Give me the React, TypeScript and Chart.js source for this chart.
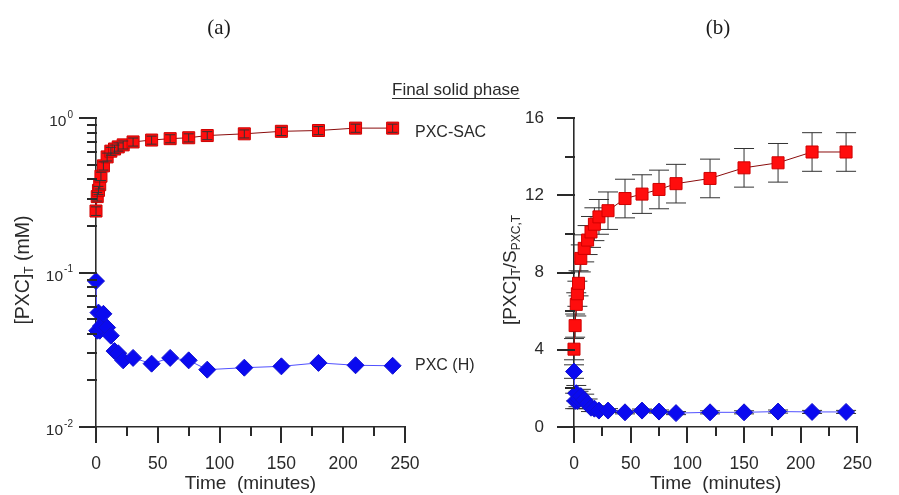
import React, { useEffect, useRef } from "react";
import { Chart, registerables } from "chart.js";

Chart.register(...registerables);

// ---------- data ----------
const timeMin = [0, 1, 2, 3, 4, 6, 9, 12, 15, 18, 22, 30, 45, 60, 75, 90, 120, 150, 180, 210, 240];

// (a) total PXC concentration in solution (mM), log scale
const sacConcA = [0.25, 0.31, 0.34, 0.37, 0.42, 0.49, 0.56, 0.61, 0.63, 0.65, 0.67, 0.7, 0.72, 0.735, 0.745, 0.77, 0.79, 0.82, 0.83, 0.86, 0.86];
const sacErrA = [0.016, 0.02, 0.021, 0.023, 0.026, 0.03, 0.033, 0.036, 0.038, 0.04, 0.04, 0.042, 0.043, 0.044, 0.045, 0.046, 0.047, 0.05, 0.05, 0.052, 0.052];
const hConcA = [0.088, 0.042, 0.055, 0.042, 0.045, 0.054, 0.044, 0.039, 0.031, 0.03, 0.027, 0.028, 0.0257, 0.028, 0.027, 0.0235, 0.0242, 0.0247, 0.026, 0.0251, 0.0249];

// (b) [PXC]T / S(PXC,T)
const sacRatioB = [4.03, 5.25, 6.35, 6.9, 7.44, 8.73, 9.25, 9.68, 10.1, 10.5, 10.88, 11.2, 11.83, 12.06, 12.3, 12.6, 12.87, 13.42, 13.68, 14.24, 14.24];
const sacErrB = [0.55, 0.6, 0.6, 0.65, 0.65, 0.7, 0.7, 0.75, 0.8, 0.85, 0.9, 0.97, 1.0, 1.0, 1.0, 1.0, 1.0, 1.0, 1.0, 1.0, 1.0];
const hRatioB = [2.87, 1.35, 1.75, 1.35, 1.45, 1.6, 1.4, 1.2, 1.0, 0.95, 0.85, 0.85, 0.76, 0.85, 0.8, 0.72, 0.76, 0.76, 0.8, 0.78, 0.78];
const hErrB = [0.35, 0.4, 0.4, 0.4, 0.4, 0.35, 0.3, 0.25, 0.2, 0.15, 0.12, 0.1, 0.08, 0.08, 0.08, 0.08, 0.08, 0.08, 0.08, 0.08, 0.08];

const xTickLabels = [0, 50, 100, 150, 200, 250];
const logDecades = [-2, -1, 0];
const ratioTicks = [0, 4, 8, 12, 16];

const seriesNames = ["PXC-SAC", "PXC (H)"];
const panelTitles = ["(a)", "(b)"];
const phaseLabel = "Final solid phase";
const xTitle = "Time  (minutes)";

// ---------- styling ----------
const SANS = '"Liberation Sans", Arial, sans-serif';
const SERIF = '"Liberation Serif", "Times New Roman", serif';
const INK = "#2a2a2a";

function pts(ys: number[]) {
  return timeMin.map((t, i) => ({ x: t, y: ys[i] }));
}

function drawRuns(ctx: CanvasRenderingContext2D, runs: { t: string; sub?: boolean }[], cx: number, cy: number, size: number, rotate: boolean) {
  const main = `${size}px ${SANS}`;
  const sub = `${Math.round(size * 0.62)}px ${SANS}`;
  let total = 0;
  const widths = runs.map((r) => {
    ctx.font = r.sub ? sub : main;
    const w = ctx.measureText(r.t).width;
    total += w;
    return w;
  });
  ctx.save();
  ctx.translate(cx, cy);
  if (rotate) ctx.rotate(-Math.PI / 2);
  ctx.fillStyle = INK;
  ctx.textBaseline = "middle";
  ctx.textAlign = "left";
  let x = -total / 2;
  runs.forEach((r, i) => {
    ctx.font = r.sub ? sub : main;
    ctx.fillText(r.t, x, r.sub ? size * 0.3 : 0);
    x += widths[i];
  });
  ctx.restore();
}

function drawErrorBars(chart: any, cap: number) {
  const ctx: CanvasRenderingContext2D = chart.ctx;
  const xs = chart.scales.x;
  const ys = chart.scales.y;
  ctx.save();
  ctx.strokeStyle = "#333";
  ctx.lineWidth = 1;
  chart.data.datasets.forEach((ds: any) => {
    const errs: number[] | undefined = ds.errorBars;
    if (!errs) return;
    ds.data.forEach((p: any, i: number) => {
      const e = errs[i];
      const px = xs.getPixelForValue(p.x);
      const top = ys.getPixelForValue(p.y + e);
      const bot = ys.getPixelForValue(p.y - e);
      ctx.beginPath();
      ctx.moveTo(px, top);
      ctx.lineTo(px, bot);
      ctx.moveTo(px - cap, top);
      ctx.lineTo(px + cap, top);
      ctx.moveTo(px - cap, bot);
      ctx.lineTo(px + cap, bot);
      ctx.stroke();
    });
  });
  ctx.restore();
}

function drawAxisTicks(chart: any, yTicks: { v: number; major: boolean }[]) {
  const ctx: CanvasRenderingContext2D = chart.ctx;
  const xs = chart.scales.x;
  const ys = chart.scales.y;
  const area = chart.chartArea;
  const left = Math.round(area.left);
  const bottom = Math.round(area.bottom);
  ctx.save();
  ctx.fillStyle = INK;
  for (let t = 0; t <= 250; t += 25) {
    const px = Math.round(xs.getPixelForValue(t));
    const len = t % 50 === 0 ? 16 : 9;
    ctx.fillRect(px - 1, bottom - 1, 2, len + 1);
  }
  yTicks.forEach((tk) => {
    const py = Math.round(ys.getPixelForValue(tk.v));
    const len = tk.major ? 17 : 9;
    ctx.fillRect(left - len, py - 1, len + 1, 2);
  });
  ctx.restore();
}

function xScale() {
  return {
    type: "linear" as const,
    min: 0,
    max: 250,
    afterFit: (s: any) => {
      s.height = 68;
    },
    grid: { display: false, drawTicks: false },
    border: { display: true, color: INK, width: 1.6 },
    afterBuildTicks: (s: any) => {
      s.ticks = xTickLabels.map((v) => ({ value: v }));
    },
    ticks: {
      autoSkip: false,
      maxRotation: 0,
      padding: 27,
      color: INK,
      font: { family: SANS, size: 17.5 },
    },
    title: {
      display: true,
      text: xTitle,
      color: INK,
      padding: { top: 0, bottom: 0 },
      font: { family: SANS, size: 19 },
    },
  };
}

function seriesDatasets(sac: number[], h: number[], sacErr: number[], hErr: number[] | null) {
  return [
    {
      label: seriesNames[0],
      data: pts(sac),
      errorBars: sacErr,
      borderColor: "#8a0c0c",
      borderWidth: 1,
      backgroundColor: "#ff0d0d",
      pointBackgroundColor: "#ff0d0d",
      pointBorderColor: "#d00000",
      pointBorderWidth: 1,
      pointStyle: "rect",
      pointRadius: 8.5,
      tension: 0,
      clip: false,
    },
    {
      label: seriesNames[1],
      data: pts(h),
      errorBars: hErr,
      borderColor: "#5050ff",
      borderWidth: 1,
      backgroundColor: "#0a0af0",
      pointBackgroundColor: "#0a0af0",
      pointBorderColor: "#1010d0",
      pointBorderWidth: 1,
      pointStyle: "rectRot",
      pointRadius: 8.5,
      tension: 0,
      clip: false,
    },
  ];
}

const panelAPlugin = {
  id: "panelA",
  afterDatasetsDraw(chart: any) {
    drawErrorBars(chart, 5);
  },
  afterDraw(chart: any) {
    const ctx: CanvasRenderingContext2D = chart.ctx;
    const ys = chart.scales.y;
    const yTicks: { v: number; major: boolean }[] = [];
    logDecades.forEach((e) => {
      for (let m = 1; m <= 9; m++) {
        const v = m * Math.pow(10, e);
        if (v <= 1.0001) yTicks.push({ v, major: m === 1 });
      }
    });
    drawAxisTicks(chart, yTicks);

    // power-of-ten labels
    ctx.save();
    ctx.fillStyle = INK;
    ctx.textBaseline = "middle";
    ctx.textAlign = "left";
    logDecades.forEach((e) => {
      const py = ys.getPixelForValue(Math.pow(10, e));
      const exp = String(e);
      ctx.font = `10px ${SANS}`;
      const sw = ctx.measureText(exp).width;
      ctx.font = `15.5px ${SANS}`;
      const mw = ctx.measureText("10").width;
      const x0 = 73 - sw - mw - 1;
      ctx.fillText("10", x0, py + 4);
      ctx.font = `10px ${SANS}`;
      ctx.fillText(exp, x0 + mw + 1, py - 3);
    });
    ctx.restore();

    drawRuns(ctx, [{ t: "[PXC]" }, { t: "T", sub: true }, { t: " (mM)" }], 24, 270, 19.5, true);

    ctx.save();
    ctx.fillStyle = "#1a1a1a";
    ctx.font = `21px ${SERIF}`;
    ctx.textAlign = "center";
    ctx.textBaseline = "middle";
    ctx.fillText(panelTitles[0], 219, 28);

    ctx.fillStyle = INK;
    ctx.font = `17px ${SANS}`;
    ctx.textAlign = "left";
    ctx.fillText(phaseLabel, 392, 90);
    const w = ctx.measureText(phaseLabel).width;
    ctx.fillRect(392, 98, w, 1);

    ctx.font = `16px ${SANS}`;
    ctx.fillText(seriesNames[0], 415, 133);
    ctx.fillText(seriesNames[1], 415, 366);
    ctx.restore();
  },
};

const panelBPlugin = {
  id: "panelB",
  beforeDatasetsDraw(chart: any) {
    drawErrorBars(chart, 10);
  },
  afterDraw(chart: any) {
    const ctx: CanvasRenderingContext2D = chart.ctx;
    const yTicks: { v: number; major: boolean }[] = [];
    for (let v = 0; v <= 16; v += 2) yTicks.push({ v, major: v % 4 === 0 });
    drawAxisTicks(chart, yTicks);

    drawRuns(
      ctx,
      [{ t: "[PXC]" }, { t: "T", sub: true }, { t: "/S" }, { t: "PXC,T", sub: true }],
      511,
      270,
      19,
      true
    );

    ctx.save();
    ctx.fillStyle = "#1a1a1a";
    ctx.font = `21px ${SERIF}`;
    ctx.textAlign = "center";
    ctx.textBaseline = "middle";
    ctx.fillText(panelTitles[1], 718, 28);
    ctx.restore();
  },
};

function configA(): any {
  return {
    type: "line",
    data: { datasets: seriesDatasets(sacConcA, hConcA, sacErrA, null) },
    options: {
      animation: false,
      responsive: false,
      maintainAspectRatio: false,
      layout: { padding: { left: 0, right: 494, top: 118, bottom: 0 } },
      plugins: { legend: { display: false }, tooltip: { enabled: false } },
      scales: {
        x: xScale(),
        y: {
          type: "logarithmic",
          min: 0.01,
          max: 1,
          afterFit: (s: any) => {
            s.width = 96;
          },
          grid: { display: false, drawTicks: false },
          border: { display: true, color: INK, width: 1.6 },
          ticks: { display: false },
        },
      },
    },
    plugins: [panelAPlugin],
  };
}

function configB(): any {
  return {
    type: "line",
    data: { datasets: seriesDatasets(sacRatioB, hRatioB, sacErrB, hErrB) },
    options: {
      animation: false,
      responsive: false,
      maintainAspectRatio: false,
      layout: { padding: { left: 450, right: 16, top: 118, bottom: 0 } },
      plugins: { legend: { display: false }, tooltip: { enabled: false } },
      scales: {
        x: xScale(),
        y: {
          type: "linear",
          min: 0,
          max: 16,
          afterFit: (s: any) => {
            s.width = 124;
          },
          afterBuildTicks: (s: any) => {
            s.ticks = ratioTicks.map((v) => ({ value: v }));
          },
          grid: { display: false, drawTicks: false },
          border: { display: true, color: INK, width: 1.6 },
          ticks: { padding: 30, color: INK, font: { family: SANS, size: 17 } },
        },
      },
    },
    plugins: [panelBPlugin],
  };
}

export default function App() {
  const refA = useRef<HTMLCanvasElement>(null);
  const refB = useRef<HTMLCanvasElement>(null);

  useEffect(() => {
    const a = new Chart(refA.current as HTMLCanvasElement, configA());
    const b = new Chart(refB.current as HTMLCanvasElement, configB());
    return () => {
      a.destroy();
      b.destroy();
    };
  }, []);

  const canvasStyle: React.CSSProperties = { position: "absolute", left: 0, top: 0, width: 899, height: 495 };
  return (
    <div style={{ position: "absolute", left: 0, top: 0, width: 899, height: 495, background: "#fff", overflow: "hidden" }}>
      <canvas ref={refA} width={899} height={495} style={canvasStyle} />
      <canvas ref={refB} width={899} height={495} style={canvasStyle} />
    </div>
  );
}
